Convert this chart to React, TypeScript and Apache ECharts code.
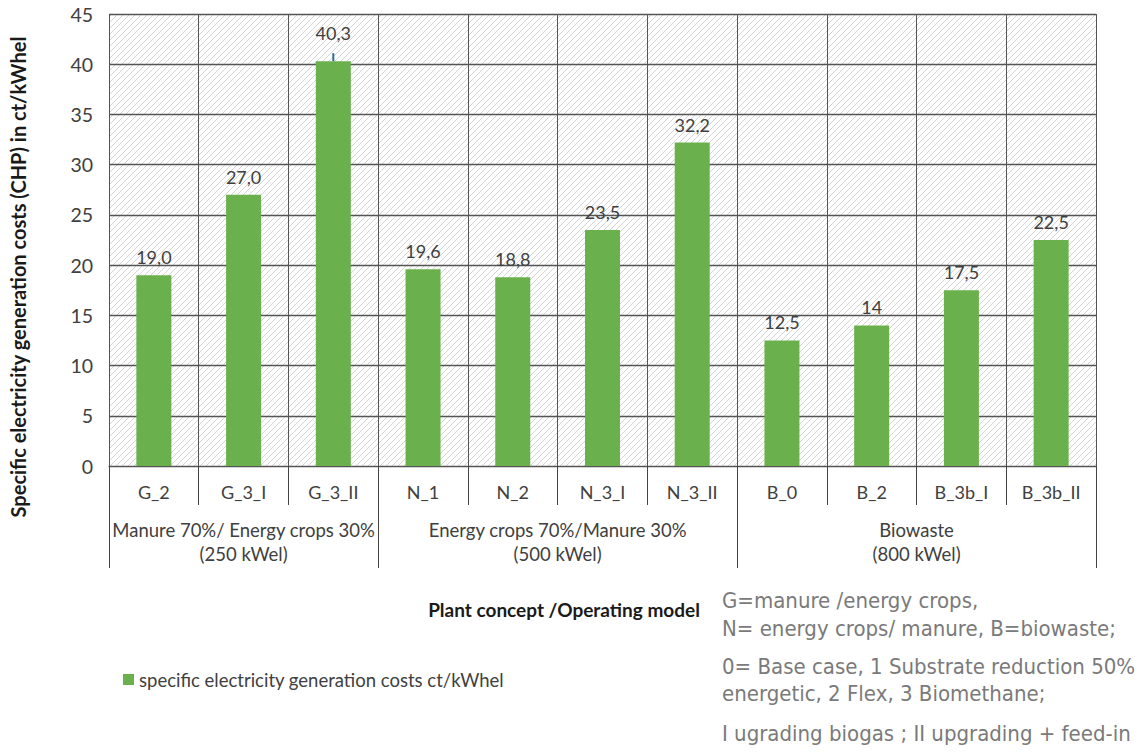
import React, { useEffect, useRef } from "react";
import * as echarts from "echarts";

const categories = ["G_2", "G_3_I", "G_3_II", "N_1", "N_2", "N_3_I", "N_3_II", "B_0", "B_2", "B_3b_I", "B_3b_II"];
const costValues = [19.0, 27.0, 40.3, 19.6, 18.8, 23.5, 32.2, 12.5, 14, 17.5, 22.5];
const costLabels = ["19,0", "27,0", "40,3", "19,6", "18,8", "23,5", "32,2", "12,5", "14", "17,5", "22,5"];
const whisker = [[2, 40.3, 41.1]];
const groupLabels = [
  "Manure 70%/ Energy crops 30%\n(250 kWel)",
  "Energy crops 70%/Manure 30%\n(500 kWel)",
  "Biowaste\n(800 kWel)",
];
const groupStarts = [0, 3, 7];
const groupSizes = [3, 4, 4];
const yMin = 0;
const yMax = 45;
const yStep = 5;
const seriesName = "specific electricity generation costs ct/kWhel";
const yTitle = "Specific electricity generation costs (CHP) in ct/kWhel";
const xTitle = "Plant concept /Operating model";
const notes = [
  "G=manure /energy crops,",
  "N= energy crops/ manure, B=biowaste;",
  "0= Base case, 1 Substrate reduction 50%",
  "energetic, 2 Flex, 3 Biomethane;",
  "I ugrading biogas ; II upgrading + feed-in",
];
const noteY = [600, 628, 666, 693, 733];

const FONT = "Lato, 'Open Sans', sans-serif";
const NARROW = "'Liberation Sans Narrow', 'DejaVu Sans Condensed', 'Liberation Sans', sans-serif";

function makeHatch() {
  const s = 6;
  const c = document.createElement("canvas");
  c.width = s;
  c.height = s;
  const ctx = c.getContext("2d")!;
  ctx.fillStyle = "#ffffff";
  ctx.fillRect(0, 0, s, s);
  ctx.strokeStyle = "#d4d4d4";
  ctx.lineWidth = 1;
  ctx.beginPath();
  ctx.moveTo(0, s);
  ctx.lineTo(s, 0);
  ctx.moveTo(-1, 1);
  ctx.lineTo(1, -1);
  ctx.moveTo(s - 1, s + 1);
  ctx.lineTo(s + 1, s - 1);
  ctx.stroke();
  return c;
}

export default function App() {
  const ref = useRef<HTMLDivElement>(null);
  useEffect(() => {
    document.body.style.margin = "0";
    if (!ref.current) return;
    const chart = echarts.init(ref.current, null, { renderer: "svg" });
    const groupCenters = groupStarts.map((s, i) => s + groupSizes[i] / 2);
    const groupTickSet = new Set(groupStarts);
    const whiskerIdx = new Set(whisker.map((w) => w[0]));
    const option: any = {
      animation: false,
      textStyle: { fontFamily: FONT },
      grid: {
        left: 109,
        right: 52,
        top: 14,
        bottom: 287,
        show: true,
        borderWidth: 0,
        backgroundColor: { image: makeHatch(), repeat: "repeat" },
      },
      legend: {
        left: 118,
        top: 665,
        icon: "rect",
        itemWidth: 11,
        itemHeight: 11,
        itemGap: 10,
        textStyle: { fontSize: 18.5, color: "#404040", fontFamily: FONT },
        data: [seriesName],
      },
      xAxis: [
        {
          type: "category",
          data: categories,
          position: "bottom",
          axisLine: { show: true, lineStyle: { color: "#555", width: 1 } },
          axisTick: { show: true, interval: 0, length: 39, lineStyle: { color: "#444", width: 1 } },
          axisLabel: { interval: 0, margin: 17, fontSize: 18, color: "#404040", fontFamily: FONT },
          splitLine: { show: true, interval: 0, lineStyle: { color: "#555", width: 1 } },
        },
        {
          type: "category",
          data: categories,
          position: "bottom",
          axisLine: { show: false },
          axisTick: {
            show: true,
            interval: (i: number) => groupTickSet.has(i),
            length: 102,
            lineStyle: { color: "#444", width: 1 },
          },
          axisLabel: { show: false },
          splitLine: { show: false },
        },
        {
          type: "value",
          min: 0,
          max: categories.length,
          interval: 0.5,
          position: "bottom",
          axisLine: { show: false },
          axisTick: { show: false },
          splitLine: { show: false },
          axisLabel: {
            margin: 52,
            fontSize: 18.5,
            lineHeight: 24,
            color: "#404040",
            fontFamily: FONT,
            formatter: (v: number) => {
              const i = groupCenters.indexOf(v);
              return i >= 0 ? groupLabels[i] : "";
            },
          },
        },
      ],
      yAxis: {
        type: "value",
        min: yMin,
        max: yMax,
        interval: yStep,
        axisLine: { show: false },
        axisTick: { show: false },
        axisLabel: { margin: 16, fontSize: 19.5, color: "#404040", fontFamily: FONT },
        splitLine: { show: true, lineStyle: { color: "#555", width: 1.3 } },
      },
      series: [
        {
          name: seriesName,
          type: "bar",
          data: costValues.map((v, i) =>
            whiskerIdx.has(i) ? { value: v, label: { distance: 19 } } : v
          ),
          barWidth: 35,
          itemStyle: { color: "#6ab04c" },
          label: {
            show: true,
            position: "top",
            distance: 9,
            fontSize: 18,
            color: "#404040",
            fontFamily: FONT,
            formatter: (p: any) => costLabels[p.dataIndex],
          },
          z: 3,
        },
        {
          type: "custom",
          data: whisker,
          encode: { x: 0, y: 1 },
          z: 4,
          renderItem: (params: any, api: any) => {
            const p1 = api.coord([api.value(0), api.value(1)]);
            const p2 = api.coord([api.value(0), api.value(2)]);
            return {
              type: "line",
              shape: { x1: p1[0], y1: p1[1], x2: p2[0], y2: p2[1] },
              style: { stroke: "#2f6e9c", lineWidth: 2 },
            };
          },
        },
      ],
      graphic: [
        {
          type: "text",
          x: 18,
          y: 277,
          rotation: Math.PI / 2,
          style: {
            text: yTitle,
            font: `bold 20px ${FONT}`,
            fill: "#1a1a1a",
            textAlign: "center",
            textVerticalAlign: "middle",
          },
        },
        {
          type: "text",
          x: 564,
          y: 609,
          style: {
            text: xTitle,
            font: `bold 19px ${FONT}`,
            fill: "#1a1a1a",
            textAlign: "center",
            textVerticalAlign: "middle",
          },
        },
        ...notes.map((t, i) => ({
          type: "text",
          x: 722,
          y: noteY[i],
          style: {
            text: t,
            font: `22px ${NARROW}`,
            fill: "#7a7a7a",
            textAlign: "left",
            textVerticalAlign: "middle",
          },
        })),
      ],
    };
    chart.setOption(option);
    return () => chart.dispose();
  }, []);
  return <div ref={ref} style={{ width: 1148, height: 753 }} />;
}
